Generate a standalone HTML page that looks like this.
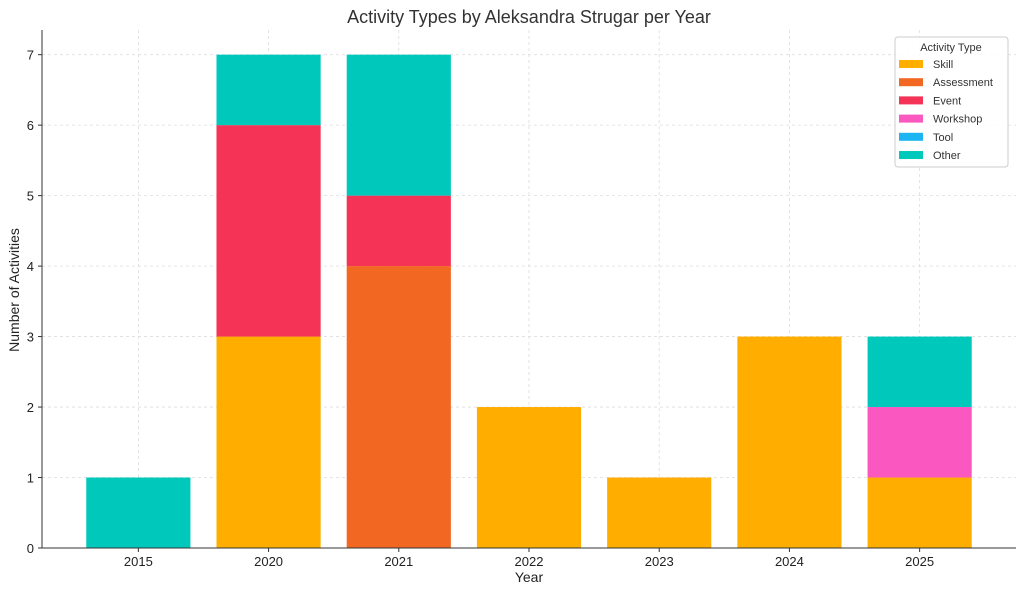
<!DOCTYPE html>
<html><head><meta charset="utf-8"><style>
body{margin:0;background:#fff;font-family:"Liberation Sans","DejaVu Sans",sans-serif}
</style></head><body>
<svg id="c" width="1024" height="594" xmlns="http://www.w3.org/2000/svg">
<text x="529" y="23" font-size="18" text-anchor="middle" fill="#333">Activity Types by Aleksandra Strugar per Year</text>
<g id="grid"></g><g id="bars"></g><g id="axes"></g><g id="legend"></g>
<text x="529" y="582" font-size="14" text-anchor="middle" fill="#222">Year</text>
<text transform="translate(19,290) rotate(-90)" font-size="14" text-anchor="middle" fill="#222">Number of Activities</text>
</svg>
<script>
const categories=["2015","2020","2021","2022","2023","2024","2025"];
const seriesNames=["Skill","Assessment","Event","Workshop","Tool","Other"];
const colors=["#FFAE00","#F26722","#F43357","#FA57C1","#1CB5F2","#00C9BC"];
const skill=[0,3,0,2,1,3,1];
const assessment=[0,0,4,0,0,0,0];
const event=[0,3,1,0,0,0,0];
const workshop=[0,0,0,0,0,0,1];
const tool=[0,0,0,0,0,0,0];
const other=[1,1,2,0,0,0,1];
const yTicks=[0,1,2,3,4,5,6,7];
const series=[skill,assessment,event,workshop,tool,other];
const L=42,R=1016,T=30,B=548;
let maxTot=0;categories.forEach((c,i)=>{let s=0;series.forEach(a=>s+=a[i]);maxTot=Math.max(maxTot,s);});
const yMax=Math.max(7,maxTot)*1.05;
const n=categories.length,x0=-0.4-0.05*(n-1+0.8),x1=n-1+0.4+0.05*(n-1+0.8);
const X=v=>L+(v-x0)/(x1-x0)*(R-L);
const Y=v=>B-v/yMax*(B-T);
const NS="http://www.w3.org/2000/svg";
function mk(t,a,p){const e=document.createElementNS(NS,t);for(const k in a)e.setAttribute(k,a[k]);p.appendChild(e);return e;}
const grid=document.getElementById('grid'),bars=document.getElementById('bars'),axes=document.getElementById('axes'),leg=document.getElementById('legend');
yTicks.forEach(t=>{
 const g=mk('line',{x1:L,x2:R,y1:Y(t),y2:Y(t),stroke:'#ddd','stroke-dasharray':'3,3','stroke-width':0.8},grid);
 
 
 const tk=mk('line',{x1:L-4,x2:L,y1:Y(t),y2:Y(t),stroke:'#333'},axes);
 
 
 const tx=mk('text',{x:L-8,y:Y(t)+5,'font-size':13,'text-anchor':'end',fill:'#222'},axes);tx.textContent=t;
 
 
});
categories.forEach((c,i)=>{
 const g=mk('line',{x1:X(i),x2:X(i),y1:T,y2:B,stroke:'#ddd','stroke-dasharray':'3,3','stroke-width':0.8},grid);
 
 
 let base=0;
 series.forEach((a,s)=>{ if(a[i]>0){
  const r=mk('rect',{x:X(i-0.4),width:X(i+0.4)-X(i-0.4),y:Y(base+a[i]),height:Y(base)-Y(base+a[i]),fill:colors[s]},bars);
  
  
  base+=a[i];}});
 const tk=mk('line',{x1:X(i),x2:X(i),y1:B,y2:B+4,stroke:'#333'},axes);
 
 
 const tx=mk('text',{x:X(i),y:B+18,'font-size':13,'text-anchor':'middle',fill:'#222'},axes);tx.textContent=c;
 
 
});
const ax=mk('path',{d:`M${L},${T}V${B}H${R}`,stroke:'#333',fill:'none','stroke-width':1},axes);


const box=mk('rect',{x:895,y:37,width:113,height:130,rx:3,fill:'#fff','fill-opacity':0.85,stroke:'#ccc'},leg);


const lt=mk('text',{x:951,y:51,'font-size':11,'text-anchor':'middle',fill:'#333'},leg);lt.textContent='Activity Type';


seriesNames.forEach((s,k)=>{
 const y=64+k*18.2;
 const sw=mk('rect',{x:899,y:y-4,width:24,height:8,fill:colors[k]},leg);
 
 
 const t=mk('text',{x:933,y:y+4,'font-size':11,fill:'#333'},leg);t.textContent=s;
 
 
});
</script>
</body></html>
